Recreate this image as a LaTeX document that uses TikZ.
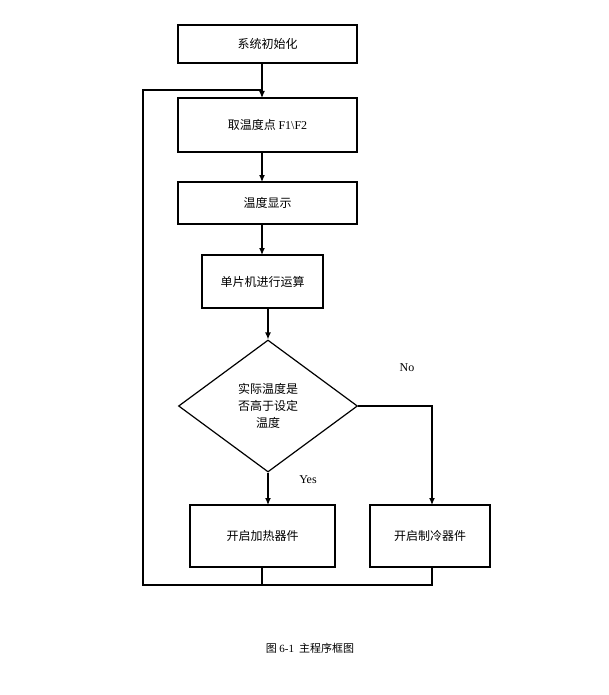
\documentclass[tikz,border=0pt]{standalone}
\usepackage{fontspec}
\setmainfont{Liberation Serif}
\newfontfamily\cjk{Noto Sans CJK SC}
\usetikzlibrary{shapes.geometric,arrows.meta}
\begin{document}
\begin{tikzpicture}[x=1pt,y=-1pt,
  box/.style={draw,line width=1.2pt,minimum height=#1,font=\cjk\fontsize{12}{14}\selectfont},
  ln/.style={line width=1.2pt},
  arr/.style={line width=1.2pt,-{Latex[length=7pt,width=6pt]}}]
\useasboundingbox (0,0) rectangle (608,695);
\node[box=38pt,minimum width=179pt] (b1) at (267.5,44) {系统初始化};
\node[box=54pt,minimum width=179pt] (b2) at (267.5,125) {取温度点 {\rmfamily F1\textbackslash F2}};
\node[box=42pt,minimum width=179pt] (b3) at (267.5,203) {温度显示};
\node[box=53pt,minimum width=121pt] (b4) at (262.5,281.5) {单片机进行运算};
\node[draw,line width=1.2pt,diamond,aspect=1.36,minimum width=179pt,minimum height=132pt,inner sep=0pt,align=center,font=\cjk\fontsize{12}{17}\selectfont] (d) at (268,406) {实际温度是\\否高于设定\\温度};
\node[box=62pt,minimum width=145pt] (b5) at (262.5,536) {开启加热器件};
\node[box=62pt,minimum width=120pt] (b6) at (430,536) {开启制冷器件};
\draw[arr] (262,63) -- (262,98);
\draw[arr] (262,152) -- (262,182);
\draw[arr] (262,224) -- (262,255);
\draw[arr] (268,308) -- (d.north);
\draw[arr] (d.south) -- (268,505);
\draw[arr] (d.east) -- (432,406) -- (432,505);
\coordinate (c1) at (262,585);
\coordinate (c2) at (432,585);
\coordinate (c3) at (143,585);
\coordinate (c4) at (143,90);
\coordinate (c5) at (262,90);
\draw[ln] (262,567) -- (c1);
\draw[ln] (432,567) -- (c2) -- (c3) -- (c4) -- (c5);
\node[font=\fontsize{12}{14}\selectfont] (no) at (407,368) {No};
\node[font=\fontsize{12}{14}\selectfont] (yes) at (308,480) {Yes};
\node[font=\cjk\fontsize{11}{13}\selectfont] (cap) at (310,648) {图 {\rmfamily 6-1}\ \ 主程序框图};
\end{tikzpicture}
\end{document}
